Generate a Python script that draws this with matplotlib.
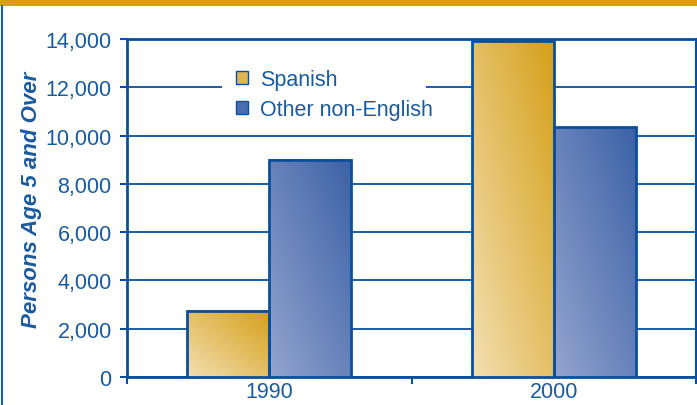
import matplotlib
matplotlib.use("Agg")
import matplotlib.pyplot as plt
import numpy as np
from matplotlib.colors import LinearSegmentedColormap
from matplotlib.patches import Rectangle, Patch
from matplotlib.lines import Line2D
from matplotlib.ticker import FuncFormatter

# data
years = ["1990", "2000"]
spanish = [2750, 13900]
other = [9000, 10350]
series_names = ["Spanish", "Other non-English"]

blue = "#0b4f9c"
txt = "#1a5a9e"
gold_cmap = LinearSegmentedColormap.from_list("gold", ["#f3dfb2", "#d5a01a"])
blue_cmap = LinearSegmentedColormap.from_list("blue", ["#93a4cf", "#3c62a6"])

plt.rcParams['font.family'] = ['Liberation Sans', 'DejaVu Sans']

fig = plt.figure(figsize=(6.97, 4.06), dpi=100)
ax = fig.add_axes([127/697, 1-378/406, 569/697, 338/406])

# diagonal gradient: light bottom-left -> dark top-right
n = 64
u, v = np.meshgrid(np.linspace(0, 1, n), np.linspace(0, 1, n))
grad = (u + v) / 2

bw = 0.288
x = np.arange(len(years))
for i in range(len(years)):
  for val, off, cm in [(spanish[i], -bw/2, gold_cmap), (other[i], bw/2, blue_cmap)]:
    x0 = x[i] + off - bw/2
    ax.imshow(grad, extent=[x0, x0 + bw, 0, val], origin='lower', aspect='auto',
              cmap=cm, vmin=0, vmax=1, zorder=3, interpolation='bilinear')
    ax.add_patch(Rectangle((x0, 0), bw, val, fill=False, edgecolor=blue, lw=2, zorder=4))

ax.set_xlim(-0.5, 1.5)
ax.set_ylim(0, 14000)
ax.set_aspect('auto')

ax.set_yticks(np.arange(0, 14001, 2000))
ax.yaxis.set_major_formatter(FuncFormatter(lambda v, p: f"{int(v):,}"))
ax.set_xticks(x)
ax.set_xticklabels(years)
ax.set_xticks([-0.5, 0.5, 1.5], minor=True)
ax.tick_params(axis='x', which='major', length=0, pad=3, labelsize=15.5, labelcolor=txt)
ax.tick_params(axis='x', which='minor', length=5, width=1.5, color=blue)
ax.tick_params(axis='y', length=5, width=1.5, color=blue, labelsize=15.5, labelcolor=txt, pad=6)

ax.grid(axis='y', color=blue, lw=1.3, zorder=1)
ax.set_axisbelow(True)
for s in ax.spines.values():
  s.set_color(blue)
  s.set_linewidth(2)
ax.spines['right'].set_linewidth(1.5)

ax.set_ylabel("Persons Age 5 and Over", color=txt, fontsize=16, fontweight='bold', fontstyle='italic')
ax.yaxis.set_label_coords(-0.150, 0.527)

# white block behind the legend hides gridlines
ax.add_patch(Rectangle((0.167, 0.757), 0.358, 0.175, transform=ax.transAxes,
                       facecolor='white', edgecolor='none', zorder=2))
handles = [Patch(facecolor="#e2b553", edgecolor=blue, lw=1),
           Patch(facecolor="#4a6db0", edgecolor=blue, lw=1)]
leg = ax.legend(handles, series_names, loc='upper left', bbox_to_anchor=(0.192, 0.912),
                frameon=False, fontsize=15.5, handlelength=0.55, handleheight=0.55,
                handletextpad=0.55, labelspacing=0.45, borderpad=0, borderaxespad=0)
for t in leg.get_texts():
  t.set_color(txt)
leg.set_zorder(5)

# gold band on top and left border
fig.patches.append(Rectangle((0, 1-7/406), 1, 7/406, transform=fig.transFigure,
                             facecolor="#d6a00f", edgecolor='none'))
fig.lines.append(Line2D([1.5/697, 1.5/697], [0, 1-7/406], transform=fig.transFigure,
                        color="#1d5ea8", lw=1.5))

fig.savefig("out.png", dpi=100)
